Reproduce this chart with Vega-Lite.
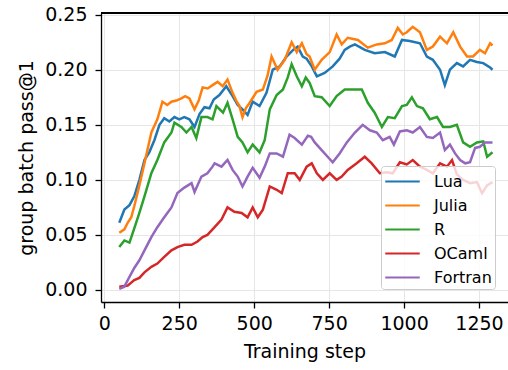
{
  "$schema": "https://vega.github.io/schema/vega-lite/v6.json",
  "width": 407,
  "height": 289,
  "autosize": "none",
  "padding": {"left": 101, "top": 13, "right": 0, "bottom": 68},
  "background": "white",
  "config": {
    "view": {"stroke": null},
    "font": "DejaVu Sans",
    "axis": {
      "labelFont": "DejaVu Sans", "titleFont": "DejaVu Sans",
      "labelFontSize": 19, "titleFontSize": 19, "titleFontWeight": "normal",
      "labelColor": "black", "titleColor": "black",
      "domainColor": "black", "domainWidth": 1.3,
      "tickColor": "black", "tickWidth": 1.3, "tickSize": 6,
      "gridColor": "#e6e6e6", "gridWidth": 1
    },
    "legend": {
      "labelFont": "DejaVu Sans", "labelFontSize": 16, "labelColor": "black"
    }
  },
  "data": {"values": [
    {"k":"Lua","s":50,"v":0.061},{"k":"Lua","s":67,"v":0.073},{"k":"Lua","s":84,"v":0.077},{"k":"Lua","s":100,"v":0.085},{"k":"Lua","s":117,"v":0.100},{"k":"Lua","s":134,"v":0.118},{"k":"Lua","s":150,"v":0.125},{"k":"Lua","s":167,"v":0.136},{"k":"Lua","s":184,"v":0.150},{"k":"Lua","s":200,"v":0.156},{"k":"Lua","s":217,"v":0.153},{"k":"Lua","s":234,"v":0.157},{"k":"Lua","s":250,"v":0.155},{"k":"Lua","s":267,"v":0.157},{"k":"Lua","s":284,"v":0.155},{"k":"Lua","s":301,"v":0.148},{"k":"Lua","s":318,"v":0.160},{"k":"Lua","s":334,"v":0.166},{"k":"Lua","s":351,"v":0.165},{"k":"Lua","s":365,"v":0.173},{"k":"Lua","s":384,"v":0.177},{"k":"Lua","s":407,"v":0.185},{"k":"Lua","s":428,"v":0.176},{"k":"Lua","s":445,"v":0.168},{"k":"Lua","s":461,"v":0.164},{"k":"Lua","s":478,"v":0.159},{"k":"Lua","s":495,"v":0.171},{"k":"Lua","s":518,"v":0.167},{"k":"Lua","s":541,"v":0.179},{"k":"Lua","s":562,"v":0.200},{"k":"Lua","s":585,"v":0.203},{"k":"Lua","s":608,"v":0.212},{"k":"Lua","s":630,"v":0.218},{"k":"Lua","s":645,"v":0.221},{"k":"Lua","s":662,"v":0.212},{"k":"Lua","s":675,"v":0.210},{"k":"Lua","s":692,"v":0.203},{"k":"Lua","s":709,"v":0.194},{"k":"Lua","s":735,"v":0.197},{"k":"Lua","s":762,"v":0.203},{"k":"Lua","s":785,"v":0.210},{"k":"Lua","s":802,"v":0.218},{"k":"Lua","s":819,"v":0.221},{"k":"Lua","s":836,"v":0.223},{"k":"Lua","s":869,"v":0.218},{"k":"Lua","s":902,"v":0.215},{"k":"Lua","s":936,"v":0.216},{"k":"Lua","s":969,"v":0.212},{"k":"Lua","s":993,"v":0.227},{"k":"Lua","s":1019,"v":0.226},{"k":"Lua","s":1053,"v":0.224},{"k":"Lua","s":1076,"v":0.212},{"k":"Lua","s":1096,"v":0.209},{"k":"Lua","s":1120,"v":0.200},{"k":"Lua","s":1136,"v":0.186},{"k":"Lua","s":1153,"v":0.200},{"k":"Lua","s":1176,"v":0.206},{"k":"Lua","s":1197,"v":0.203},{"k":"Lua","s":1220,"v":0.209},{"k":"Lua","s":1243,"v":0.207},{"k":"Lua","s":1264,"v":0.206},{"k":"Lua","s":1287,"v":0.202},{"k":"Lua","s":1295,"v":0.200},
    {"k":"Julia","s":50,"v":0.052},{"k":"Julia","s":67,"v":0.055},{"k":"Julia","s":78,"v":0.061},{"k":"Julia","s":90,"v":0.066},{"k":"Julia","s":100,"v":0.076},{"k":"Julia","s":117,"v":0.095},{"k":"Julia","s":134,"v":0.115},{"k":"Julia","s":157,"v":0.143},{"k":"Julia","s":177,"v":0.155},{"k":"Julia","s":194,"v":0.171},{"k":"Julia","s":210,"v":0.168},{"k":"Julia","s":224,"v":0.171},{"k":"Julia","s":240,"v":0.172},{"k":"Julia","s":257,"v":0.174},{"k":"Julia","s":270,"v":0.176},{"k":"Julia","s":284,"v":0.174},{"k":"Julia","s":301,"v":0.164},{"k":"Julia","s":315,"v":0.172},{"k":"Julia","s":328,"v":0.184},{"k":"Julia","s":345,"v":0.183},{"k":"Julia","s":361,"v":0.186},{"k":"Julia","s":378,"v":0.189},{"k":"Julia","s":395,"v":0.185},{"k":"Julia","s":411,"v":0.191},{"k":"Julia","s":428,"v":0.179},{"k":"Julia","s":440,"v":0.172},{"k":"Julia","s":451,"v":0.167},{"k":"Julia","s":461,"v":0.157},{"k":"Julia","s":472,"v":0.165},{"k":"Julia","s":485,"v":0.170},{"k":"Julia","s":508,"v":0.180},{"k":"Julia","s":529,"v":0.182},{"k":"Julia","s":545,"v":0.195},{"k":"Julia","s":558,"v":0.212},{"k":"Julia","s":578,"v":0.200},{"k":"Julia","s":602,"v":0.209},{"k":"Julia","s":625,"v":0.225},{"k":"Julia","s":642,"v":0.216},{"k":"Julia","s":659,"v":0.224},{"k":"Julia","s":675,"v":0.214},{"k":"Julia","s":685,"v":0.212},{"k":"Julia","s":702,"v":0.200},{"k":"Julia","s":725,"v":0.209},{"k":"Julia","s":752,"v":0.216},{"k":"Julia","s":775,"v":0.232},{"k":"Julia","s":792,"v":0.223},{"k":"Julia","s":812,"v":0.229},{"k":"Julia","s":846,"v":0.227},{"k":"Julia","s":879,"v":0.220},{"k":"Julia","s":909,"v":0.223},{"k":"Julia","s":936,"v":0.224},{"k":"Julia","s":959,"v":0.227},{"k":"Julia","s":979,"v":0.238},{"k":"Julia","s":996,"v":0.232},{"k":"Julia","s":1009,"v":0.234},{"k":"Julia","s":1029,"v":0.239},{"k":"Julia","s":1053,"v":0.234},{"k":"Julia","s":1076,"v":0.218},{"k":"Julia","s":1096,"v":0.221},{"k":"Julia","s":1120,"v":0.230},{"k":"Julia","s":1143,"v":0.224},{"k":"Julia","s":1164,"v":0.234},{"k":"Julia","s":1187,"v":0.221},{"k":"Julia","s":1210,"v":0.212},{"k":"Julia","s":1230,"v":0.212},{"k":"Julia","s":1253,"v":0.218},{"k":"Julia","s":1270,"v":0.215},{"k":"Julia","s":1287,"v":0.224},{"k":"Julia","s":1295,"v":0.222},
    {"k":"R","s":50,"v":0.039},{"k":"R","s":67,"v":0.045},{"k":"R","s":84,"v":0.043},{"k":"R","s":100,"v":0.056},{"k":"R","s":117,"v":0.070},{"k":"R","s":134,"v":0.085},{"k":"R","s":157,"v":0.106},{"k":"R","s":177,"v":0.118},{"k":"R","s":200,"v":0.134},{"k":"R","s":224,"v":0.143},{"k":"R","s":234,"v":0.152},{"k":"R","s":257,"v":0.148},{"k":"R","s":274,"v":0.143},{"k":"R","s":291,"v":0.148},{"k":"R","s":307,"v":0.138},{"k":"R","s":324,"v":0.157},{"k":"R","s":344,"v":0.157},{"k":"R","s":361,"v":0.155},{"k":"R","s":374,"v":0.167},{"k":"R","s":396,"v":0.161},{"k":"R","s":411,"v":0.170},{"k":"R","s":428,"v":0.155},{"k":"R","s":445,"v":0.139},{"k":"R","s":461,"v":0.134},{"k":"R","s":478,"v":0.125},{"k":"R","s":495,"v":0.132},{"k":"R","s":518,"v":0.125},{"k":"R","s":535,"v":0.136},{"k":"R","s":552,"v":0.164},{"k":"R","s":575,"v":0.177},{"k":"R","s":596,"v":0.182},{"k":"R","s":612,"v":0.193},{"k":"R","s":625,"v":0.205},{"k":"R","s":642,"v":0.194},{"k":"R","s":659,"v":0.185},{"k":"R","s":672,"v":0.193},{"k":"R","s":685,"v":0.188},{"k":"R","s":702,"v":0.176},{"k":"R","s":725,"v":0.175},{"k":"R","s":752,"v":0.167},{"k":"R","s":775,"v":0.176},{"k":"R","s":802,"v":0.182},{"k":"R","s":829,"v":0.182},{"k":"R","s":859,"v":0.182},{"k":"R","s":879,"v":0.170},{"k":"R","s":902,"v":0.161},{"k":"R","s":926,"v":0.148},{"k":"R","s":946,"v":0.157},{"k":"R","s":969,"v":0.156},{"k":"R","s":993,"v":0.167},{"k":"R","s":1009,"v":0.168},{"k":"R","s":1026,"v":0.175},{"k":"R","s":1043,"v":0.167},{"k":"R","s":1063,"v":0.165},{"k":"R","s":1086,"v":0.155},{"k":"R","s":1110,"v":0.157},{"k":"R","s":1130,"v":0.148},{"k":"R","s":1153,"v":0.148},{"k":"R","s":1176,"v":0.150},{"k":"R","s":1197,"v":0.134},{"k":"R","s":1220,"v":0.130},{"k":"R","s":1243,"v":0.134},{"k":"R","s":1264,"v":0.135},{"k":"R","s":1277,"v":0.121},{"k":"R","s":1295,"v":0.125},
    {"k":"OCaml","s":50,"v":0.003},{"k":"OCaml","s":78,"v":0.004},{"k":"OCaml","s":100,"v":0.009},{"k":"OCaml","s":117,"v":0.011},{"k":"OCaml","s":134,"v":0.016},{"k":"OCaml","s":157,"v":0.021},{"k":"OCaml","s":177,"v":0.024},{"k":"OCaml","s":200,"v":0.030},{"k":"OCaml","s":224,"v":0.036},{"k":"OCaml","s":244,"v":0.039},{"k":"OCaml","s":267,"v":0.041},{"k":"OCaml","s":291,"v":0.041},{"k":"OCaml","s":311,"v":0.044},{"k":"OCaml","s":328,"v":0.048},{"k":"OCaml","s":344,"v":0.050},{"k":"OCaml","s":351,"v":0.052},{"k":"OCaml","s":368,"v":0.057},{"k":"OCaml","s":391,"v":0.064},{"k":"OCaml","s":411,"v":0.075},{"k":"OCaml","s":434,"v":0.071},{"k":"OCaml","s":458,"v":0.070},{"k":"OCaml","s":478,"v":0.066},{"k":"OCaml","s":495,"v":0.075},{"k":"OCaml","s":512,"v":0.066},{"k":"OCaml","s":529,"v":0.073},{"k":"OCaml","s":552,"v":0.094},{"k":"OCaml","s":575,"v":0.091},{"k":"OCaml","s":592,"v":0.088},{"k":"OCaml","s":612,"v":0.106},{"k":"OCaml","s":635,"v":0.106},{"k":"OCaml","s":652,"v":0.100},{"k":"OCaml","s":675,"v":0.112},{"k":"OCaml","s":692,"v":0.115},{"k":"OCaml","s":709,"v":0.106},{"k":"OCaml","s":729,"v":0.100},{"k":"OCaml","s":752,"v":0.106},{"k":"OCaml","s":775,"v":0.100},{"k":"OCaml","s":792,"v":0.103},{"k":"OCaml","s":812,"v":0.109},{"k":"OCaml","s":842,"v":0.115},{"k":"OCaml","s":869,"v":0.121},{"k":"OCaml","s":892,"v":0.115},{"k":"OCaml","s":919,"v":0.106},{"k":"OCaml","s":942,"v":0.107},{"k":"OCaml","s":962,"v":0.106},{"k":"OCaml","s":986,"v":0.116},{"k":"OCaml","s":1009,"v":0.114},{"k":"OCaml","s":1029,"v":0.118},{"k":"OCaml","s":1053,"v":0.112},{"k":"OCaml","s":1076,"v":0.109},{"k":"OCaml","s":1096,"v":0.106},{"k":"OCaml","s":1120,"v":0.115},{"k":"OCaml","s":1143,"v":0.112},{"k":"OCaml","s":1160,"v":0.118},{"k":"OCaml","s":1176,"v":0.105},{"k":"OCaml","s":1197,"v":0.100},{"k":"OCaml","s":1220,"v":0.097},{"k":"OCaml","s":1243,"v":0.098},{"k":"OCaml","s":1260,"v":0.088},{"k":"OCaml","s":1277,"v":0.095},{"k":"OCaml","s":1295,"v":0.098},
    {"k":"Fortran","s":50,"v":0.001},{"k":"Fortran","s":67,"v":0.003},{"k":"Fortran","s":84,"v":0.012},{"k":"Fortran","s":100,"v":0.020},{"k":"Fortran","s":117,"v":0.027},{"k":"Fortran","s":134,"v":0.036},{"k":"Fortran","s":157,"v":0.048},{"k":"Fortran","s":177,"v":0.057},{"k":"Fortran","s":200,"v":0.066},{"k":"Fortran","s":224,"v":0.075},{"k":"Fortran","s":244,"v":0.088},{"k":"Fortran","s":267,"v":0.093},{"k":"Fortran","s":291,"v":0.097},{"k":"Fortran","s":301,"v":0.089},{"k":"Fortran","s":324,"v":0.103},{"k":"Fortran","s":344,"v":0.106},{"k":"Fortran","s":361,"v":0.112},{"k":"Fortran","s":368,"v":0.115},{"k":"Fortran","s":391,"v":0.112},{"k":"Fortran","s":411,"v":0.118},{"k":"Fortran","s":428,"v":0.109},{"k":"Fortran","s":445,"v":0.103},{"k":"Fortran","s":461,"v":0.094},{"k":"Fortran","s":478,"v":0.103},{"k":"Fortran","s":495,"v":0.111},{"k":"Fortran","s":518,"v":0.102},{"k":"Fortran","s":535,"v":0.112},{"k":"Fortran","s":552,"v":0.124},{"k":"Fortran","s":575,"v":0.124},{"k":"Fortran","s":596,"v":0.121},{"k":"Fortran","s":618,"v":0.141},{"k":"Fortran","s":635,"v":0.138},{"k":"Fortran","s":659,"v":0.132},{"k":"Fortran","s":679,"v":0.140},{"k":"Fortran","s":690,"v":0.139},{"k":"Fortran","s":702,"v":0.134},{"k":"Fortran","s":725,"v":0.127},{"k":"Fortran","s":745,"v":0.121},{"k":"Fortran","s":762,"v":0.116},{"k":"Fortran","s":785,"v":0.124},{"k":"Fortran","s":809,"v":0.134},{"k":"Fortran","s":836,"v":0.143},{"k":"Fortran","s":862,"v":0.150},{"k":"Fortran","s":886,"v":0.145},{"k":"Fortran","s":909,"v":0.143},{"k":"Fortran","s":929,"v":0.136},{"k":"Fortran","s":952,"v":0.139},{"k":"Fortran","s":966,"v":0.132},{"k":"Fortran","s":986,"v":0.144},{"k":"Fortran","s":1009,"v":0.145},{"k":"Fortran","s":1029,"v":0.143},{"k":"Fortran","s":1053,"v":0.148},{"k":"Fortran","s":1076,"v":0.139},{"k":"Fortran","s":1096,"v":0.138},{"k":"Fortran","s":1120,"v":0.143},{"k":"Fortran","s":1136,"v":0.127},{"k":"Fortran","s":1153,"v":0.132},{"k":"Fortran","s":1170,"v":0.124},{"k":"Fortran","s":1187,"v":0.118},{"k":"Fortran","s":1204,"v":0.115},{"k":"Fortran","s":1220,"v":0.116},{"k":"Fortran","s":1237,"v":0.129},{"k":"Fortran","s":1253,"v":0.130},{"k":"Fortran","s":1270,"v":0.134},{"k":"Fortran","s":1295,"v":0.134}
  ]},
  "layer": [
    {
      "mark": {"type": "line", "strokeWidth": 2.5, "clip": true},
      "encoding": {
        "x": {"field": "s", "type": "quantitative",
          "scale": {"domain": [-11, 1346.7], "nice": false, "zero": false},
          "axis": {"title": "Training step", "values": [0, 250, 500, 750, 1000, 1250], "format": "d", "labelPadding": 6, "titlePadding": 9}},
        "y": {"field": "v", "type": "quantitative",
          "scale": {"domain": [-0.0109, 0.2515], "nice": false, "zero": false},
          "axis": {"title": "group batch pass@1", "values": [0, 0.05, 0.1, 0.15, 0.2, 0.25], "format": ".2f", "labelPadding": 8, "titlePadding": 8}},
        "color": {"field": "k", "type": "nominal",
          "scale": {"domain": ["Lua", "Julia", "R", "OCaml", "Fortran"], "range": ["#1f77b4", "#ff7f0e", "#2ca02c", "#d62728", "#9467bd"]},
          "legend": {"title": null, "orient": "none", "legendX": 280, "legendY": 153,
            "symbolType": "M-1.5,0L1.5,0", "symbolSize": 529, "symbolStrokeWidth": 2, "symbolOffset": 6,
            "padding": 3, "rowPadding": 3, "labelOffset": 19,
            "fillColor": "rgba(255,255,255,0.8)", "strokeColor": "#cccccc", "cornerRadius": 3}}
      }
    },
    {
      "mark": {"type": "rule", "color": "black", "strokeWidth": 1.3},
      "encoding": {"y": {"datum": 0.2515}}
    }
  ]
}
